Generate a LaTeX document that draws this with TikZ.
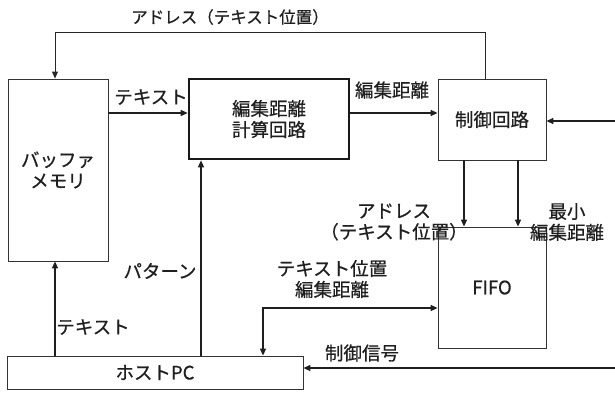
\documentclass[tikz,border=0pt]{standalone}
\usepackage{fontspec}
\setmainfont{Noto Sans CJK JP}[FakeBold=0.6]
\usetikzlibrary{arrows.meta}
\begin{document}
\begin{tikzpicture}[x=1pt,y=-1pt,
  every node/.style={font=\fontsize{18.5}{21}\selectfont, text=black!88},
  box/.style={draw=black!80, line width=0.8pt, rectangle, inner sep=0pt, align=center},
  thickbox/.style={box, draw=black!90, line width=2.6pt},
  arr/.style={draw=black!88, line width=1.4pt, -{Triangle[length=7pt,width=6pt]}},
  arrthin/.style={draw=black!85, line width=0.9pt, -{Triangle[length=7pt,width=6pt]}},
  arrboth/.style={draw=black!88, line width=1.4pt, {Triangle[length=7pt,width=6pt]}-{Triangle[length=7pt,width=6pt]}},
  lbl/.style={inner sep=0pt, align=center}]
\useasboundingbox (0,0) rectangle (615,394);

\node[box, minimum width=100pt, minimum height=182pt] (buf) at (58,170) {バッファ\\メモリ};
\node[thickbox, minimum width=160pt, minimum height=80pt] (calc) at (269,119) {編集距離\\計算回路};
\node[box, minimum width=108pt, minimum height=81pt] (ctrl) at (492,119.5) {制御回路};
\node[box, minimum width=108pt, minimum height=121pt] (fifo) at (492,287.5) {FIFO};
\node[box, minimum width=296pt, minimum height=33pt] (host) at (155,372.5) {ホストPC};

\coordinate (rin) at (615,121);
\coordinate (cin) at (615,368);

% connectors
\draw[arrthin] (ctrl.north -| 485,0) -- (485,32) -- (55,32) -- (buf.north -| 55,0);
\draw[arr] (buf.east |- 0,113) -- (calc.west |- 0,113);
\draw[arr] (calc.east |- 0,113) -- (ctrl.west |- 0,113);
\draw[arr] (rin) -- (ctrl.east |- rin);
\draw[arr] (ctrl.south -| 464,0) -- (fifo.north -| 464,0);
\draw[arr] (ctrl.south -| 518,0) -- (fifo.north -| 518,0);
\draw[arr] (host.north -| 201,0) -- (calc.south -| 201,0);
\draw[arr] (host.north -| 55,0) -- (buf.south -| 55,0);
\draw[arrboth] (host.north -| 263,0) -- (263,308) -- (fifo.west |- 0,308);
\draw[arr] (cin) -- (host.east |- cin);

% labels
\node[lbl, font=\fontsize{16.5}{21}\selectfont] (l1) at (230,17) {アドレス（テキスト位置）};
\node[lbl] (l2) at (151,97) {テキスト};
\node[lbl] (l3) at (392,90) {編集距離};
\node[lbl] (l4) at (394,222) {アドレス\\（テキスト位置）};
\node[lbl] (l5) at (567,222) {最小\\編集距離};
\node[lbl] (l6) at (160,271) {パターン};
\node[lbl] (l7) at (93,327) {テキスト};
\node[lbl] (l8) at (332,279) {テキスト位置\\編集距離};
\node[lbl] (l9) at (362,353) {制御信号};
\end{tikzpicture}
\end{document}
